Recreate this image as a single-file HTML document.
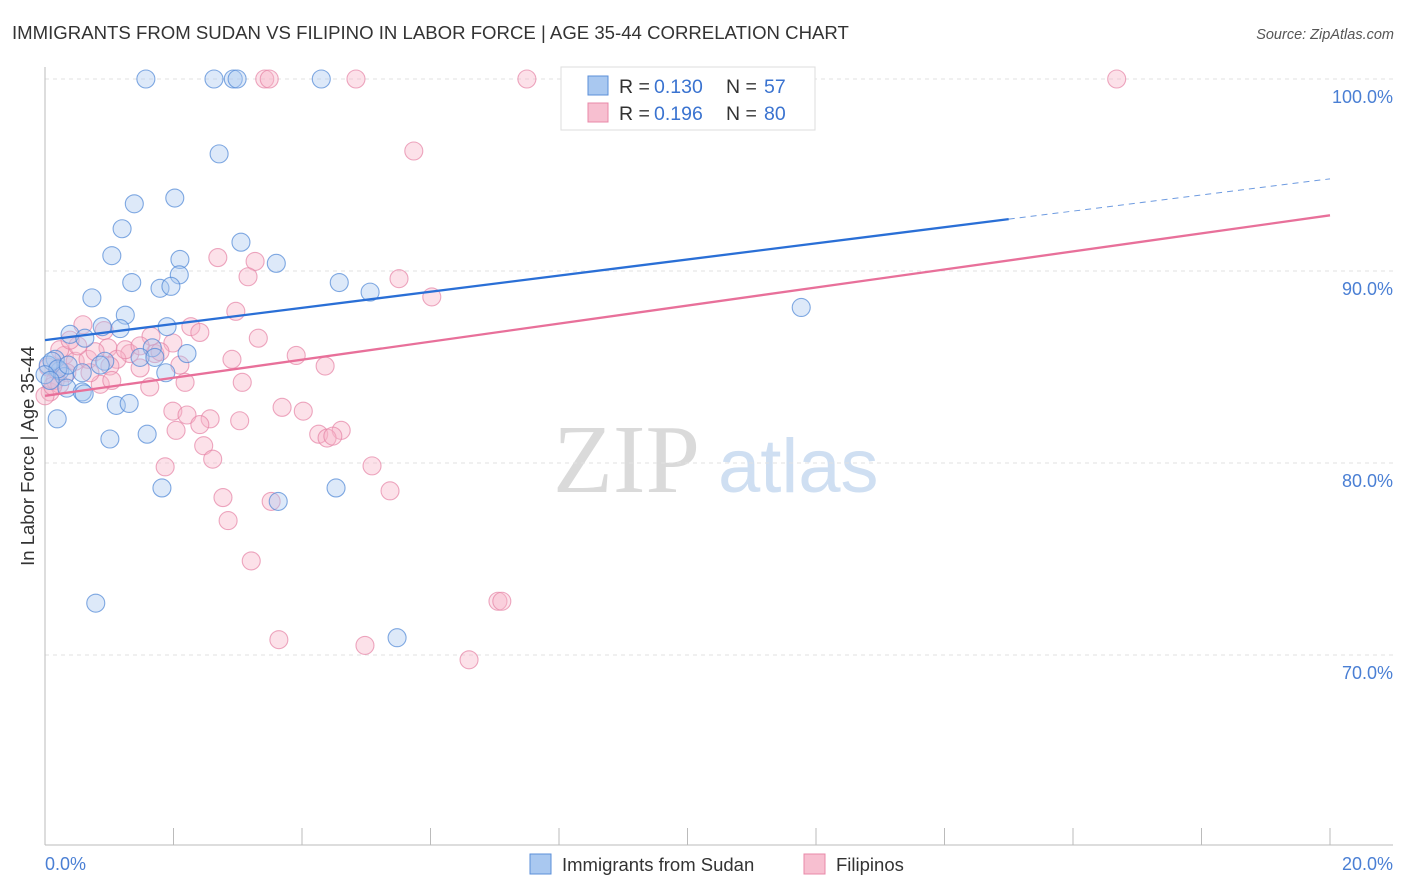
<!DOCTYPE html>
<html><head><meta charset="utf-8"><style>
body{margin:0;background:#fff;font-family:"Liberation Sans",sans-serif;}
#wrap{position:relative;width:1406px;height:892px;overflow:hidden;}
</style></head><body>
<div id="wrap">
<svg id="svg" width="1406" height="892" xmlns="http://www.w3.org/2000/svg">
<text x="12" y="39" font-size="18.6" fill="#333">IMMIGRANTS FROM SUDAN VS FILIPINO IN LABOR FORCE | AGE 35-44 CORRELATION CHART</text>
<text x="1394" y="39" font-size="14.5" fill="#555" text-anchor="end" font-style="italic">Source: ZipAtlas.com</text>
<text x="553" y="492" font-size="98" fill="#dadada" font-family="Liberation Serif, serif">ZIP</text>
<text x="718" y="492" font-size="76" fill="#cfdff2">atlas</text>
<g id="grid"></g><g id="axes"></g><g id="pts"></g><g id="lines"></g>
<text transform="translate(34,456) rotate(-90)" font-size="18.5" fill="#333" text-anchor="middle">In Labor Force | Age 35-44</text>
<text x="45" y="870" font-size="18" fill="#4a7fd4">0.0%</text>
<text x="1393" y="870" font-size="18" fill="#4a7fd4" text-anchor="end">20.0%</text>
<g>
<rect x="561" y="67" width="254" height="63" fill="#fff" stroke="#ddd"/>
<rect x="588" y="76" width="20" height="19" fill="#a9c8f0" stroke="#5b8fd9"/>
<rect x="588" y="103" width="20" height="19" fill="#f7bfd0" stroke="#e888a8"/>
<text x="619" y="93" font-size="19.5" fill="#333">R =</text>
<text x="654" y="93" font-size="19.5" fill="#3a73d0">0.130</text>
<text x="726" y="93" font-size="19.5" fill="#333">N =</text>
<text x="764" y="93" font-size="19.5" fill="#3a73d0">57</text>
<text x="619" y="120" font-size="19.5" fill="#333">R =</text>
<text x="654" y="120" font-size="19.5" fill="#3a73d0">0.196</text>
<text x="726" y="120" font-size="19.5" fill="#333">N =</text>
<text x="764" y="120" font-size="19.5" fill="#3a73d0">80</text>
</g>
<g>
<rect x="530" y="854" width="21" height="20" fill="#a9c8f0" stroke="#5b8fd9"/>
<text x="562" y="871" font-size="18.5" fill="#333">Immigrants from Sudan</text>
<rect x="804" y="854" width="21" height="20" fill="#f7bfd0" stroke="#e888a8"/>
<text x="836" y="871" font-size="18.5" fill="#333">Filipinos</text>
</g>
</svg>
</div>
<script>
const yTicks=[100,90,80,70];
const yTickLabels=["100.0%","90.0%","80.0%","70.0%"];
const xTicks=[0,2,4,6,8,10,12,14,16,18,20];
const sudanX=[1.57,2.63,2.93,2.99,4.30,2.71,1.39,2.02,1.20,3.05,1.04,2.10,3.60,2.09,1.35,1.79,1.96,0.73,4.58,5.06,11.77,1.25,1.90,1.17,0.89,0.39,0.62,0.16,1.67,2.21,1.48,1.71,0.93,0.23,0.05,0.30,0.34,0.58,0.61,1.11,1.31,0.19,1.01,1.59,1.82,3.63,4.53,0.79,5.48,0.11,0.20,0.86,0.36,1.88,0.58,0.0,0.08];
const sudanY=[100,100,100,100,100,96.1,93.5,93.8,92.2,91.5,90.8,90.6,90.4,89.8,89.4,89.1,89.2,88.6,89.4,88.9,88.1,87.7,87.1,87.0,87.1,86.7,86.5,85.4,86.0,85.7,85.5,85.5,85.3,84.8,85.1,84.5,83.9,83.7,83.6,83.0,83.1,82.3,81.25,81.5,78.7,78.0,78.7,72.7,70.9,85.3,84.9,85.1,85.1,84.7,84.7,84.6,84.3];
const filX=[3.42,3.49,4.84,7.50,11.75,16.68,5.74,2.69,3.27,3.16,5.51,6.02,2.97,0.59,2.27,0.92,3.32,2.41,1.65,1.99,0.98,0.30,3.91,1.32,1.12,2.91,0.47,0.67,1.71,4.36,1.48,1.01,2.10,0.19,0.34,3.07,2.18,0.86,1.04,1.63,0.08,3.69,1.99,2.21,2.57,4.02,3.03,2.04,2.41,4.26,4.61,4.39,4.48,2.47,2.61,1.87,5.09,5.37,2.77,3.52,2.85,3.21,7.05,7.11,3.64,4.98,6.60,0.16,0.23,0.0,0.51,1.25,0.23,0.78,1.48,1.79,0.70,0.39,0.05,0.12];
const filY=[100,100,100,100,100,100,96.25,90.7,90.5,89.7,89.6,88.65,87.9,87.2,87.1,86.9,86.5,86.8,86.6,86.25,86.0,85.6,85.6,85.7,85.4,85.4,85.3,85.4,85.7,85.05,84.95,85.05,85.1,84.8,84.7,84.2,84.2,84.1,84.3,83.96,83.7,82.9,82.7,82.5,82.3,82.7,82.2,81.7,82.0,81.5,81.7,81.3,81.4,80.9,80.2,79.8,79.85,78.55,78.2,78.0,77.0,74.9,72.8,72.8,70.8,70.5,69.75,84.3,84.1,83.5,86.1,85.9,85.9,85.8,86.1,85.8,84.7,86.4,85.0,84.0];
const sudanTrend=[86.4,0.42];
const filTrend=[83.5,0.47];
const NS="http://www.w3.org/2000/svg";
const xS=v=>45+v/20*1285;
const yS=v=>79+(100-v)*19.2;
function mk(t,a,p){const e=document.createElementNS(NS,t);for(const k in a)e.setAttribute(k,a[k]);document.getElementById(p).appendChild(e);return e;}
yTicks.forEach((t,i)=>{
 const l=mk('line',{x1:45,x2:1393,y1:yS(t),y2:yS(t),stroke:'#e2e2e2','stroke-dasharray':'4,4'},'grid');
 
 
 const tx=mk('text',{x:1393,y:yS(t)+24,'font-size':18,fill:'#4a7fd4','text-anchor':'end'},'grid');
 tx.textContent=yTickLabels[i];
 
 
});
const ax1=mk('line',{x1:45,x2:45,y1:67,y2:845,stroke:'#bbb'},'axes');


const ax2=mk('line',{x1:45,x2:1393,y1:845,y2:845,stroke:'#bbb'},'axes');


xTicks.forEach(t=>{
 const l=mk('line',{x1:xS(t),x2:xS(t),y1:828,y2:845,stroke:'#bbb'},'axes');
 
 
});
function pts(X,Y,fill,stroke,name){
 X.forEach((x,i)=>{
  const c=mk('circle',{cx:xS(x),cy:yS(Y[i]),r:9,fill:fill,'fill-opacity':0.4,stroke:stroke,'stroke-opacity':0.7,'stroke-width':1.1},'pts');
  
  
 });
}
pts(filX,filY,'#f7b3c8','#e683a5','filipino-point');
pts(sudanX,sudanY,'#a9c8f0','#4d86d6','sudan-point');
function tl(tr,x0,x1,col,dash,name){
 const l=mk('line',{x1:xS(x0),x2:xS(x1),y1:yS(tr[0]+tr[1]*x0),y2:yS(tr[0]+tr[1]*x1),stroke:col,'stroke-width':dash?1:2.3},'lines');
 if(dash)l.setAttribute('stroke-dasharray','6,5');
 
 
}
tl(sudanTrend,0,15,'#2a6fd6',false,'sudan-trend-line');
tl(sudanTrend,15,20,'#6e9be0',true,'sudan-trend-extension');
tl(filTrend,0,20,'#e8709a',false,'filipino-trend-line');
</script>
</body></html>
